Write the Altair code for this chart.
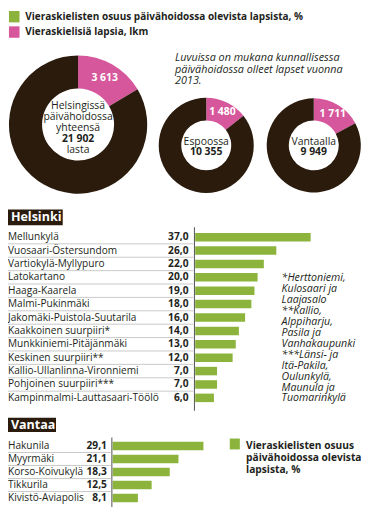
import altair as alt
import pandas as pd

# ---------------- data ----------------
legend_labels = ["Vieraskielisten osuus päivähoidossa olevista lapsista, %",
                 "Vieraskielisiä lapsia, lkm"]
note_lines = ["Luvuissa on mukana kunnallisessa",
              "päivähoidossa olleet lapset vuonna", "2013."]

city_names = ["Helsinki", "Espoo", "Vantaa"]
city_titles = [["Helsingissä", "päivähoidossa", "yhteensä"], ["Espoossa"], ["Vantaalla"]]
city_totals = [21902, 10355, 9949]
city_total_labels = ["21 902", "10 355", "9 949"]
city_extra = [["lasta"], [], []]
city_foreign = [3613, 1480, 1711]
city_foreign_labels = ["3 613", "1 480", "1 711"]

hki_title = "Helsinki"
hki_areas = ["Mellunkylä", "Vuosaari-Östersundom", "Vartiokylä-Myllypuro", "Latokartano",
             "Haaga-Kaarela", "Malmi-Pukinmäki", "Jakomäki-Puistola-Suutarila",
             "Kaakkoinen suurpiiri*", "Munkkiniemi-Pitäjänmäki", "Keskinen suurpiiri**",
             "Kallio-Ullanlinna-Vironniemi", "Pohjoinen suurpiiri***",
             "Kampinmalmi-Lauttasaari-Töölö"]
hki_values = [37.0, 26.0, 22.0, 20.0, 19.0, 18.0, 16.0, 14.0, 13.0, 12.0, 7.0, 7.0, 6.0]
hki_notes = ["*Herttoniemi,", "Kulosaari ja", "Laajasalo", "**Kallio,", "Alppiharju,",
             "Pasila ja", "Vanhakaupunki", "***Länsi- ja", "Itä-Pakila,", "Oulunkylä,",
             "Maunula ja", "Tuomarinkylä"]

van_title = "Vantaa"
van_areas = ["Hakunila", "Myyrmäki", "Korso-Koivukylä", "Tikkurila", "Kivistö-Aviapolis"]
van_values = [29.1, 21.1, 18.3, 12.5, 8.1]
van_legend = ["Vieraskielisten osuus", "päivähoidossa olevista", "lapsista, %"]

# ---------------- styles / layout ----------------
FONT = "Open Sans"
TXT = "#231f20"
GREEN = "#8cb43c"
PINK = "#d6579b"
DARK = "#2a1b0d"
SEP = "#bdbdbd"
AXC = "#555555"
W, H = 353, 501
SX, SY = 0.96, 0.992


def X(r):
    return (r - 2) * SX


def Y(r):
    return (r - 9) * SY


def fmt(v):
    return f"{v:.1f}".replace(".", ",")


layers = []


def txt(s, x, y, size=10.2, weight="normal", style="normal", align="left", color=TXT):
    layers.append(
        alt.Chart(pd.DataFrame({"t": [s]}))
        .mark_text(font=FONT, fontSize=size, fontWeight=weight, fontStyle=style,
                   align=align, baseline="middle", color=color)
        .encode(text="t:N", x=alt.value(x), y=alt.value(y))
    )


def mtxt(lines, x, y_first, step, size=10.2, weight="normal", style="normal",
         align="left", color=TXT):
    """Multi-line text block; y_first = reference centre of the first line."""
    layers.append(
        alt.Chart(pd.DataFrame({"t": ["\n".join(lines)]}))
        .mark_text(font=FONT, fontSize=size, fontWeight=weight, fontStyle=style,
                   align=align, baseline="alphabetic", color=color, lineBreak="\n",
                   lineHeight=step * SY)
        .encode(text="t:N", x=alt.value(x), y=alt.value(Y(y_first) + 0.34 * size))
    )


def box(x1, x2, y1, y2, color):
    layers.append(
        alt.Chart(pd.DataFrame({"a": [0]}))
        .mark_rect(color=color)
        .encode(x=alt.value(x1), x2=alt.value(x2), y=alt.value(y1), y2=alt.value(y2))
    )


def vline(x, y1, y2, color=AXC, w=1):
    layers.append(
        alt.Chart(pd.DataFrame({"a": [0]}))
        .mark_rule(color=color, strokeWidth=w)
        .encode(x=alt.value(x), y=alt.value(y1), y2=alt.value(y2))
    )


# ---------- top legend ----------
for i, (lab, col) in enumerate(zip(legend_labels, [GREEN, PINK])):
    cy = 18 + 15.5 * i
    box(X(3), X(14), Y(cy - 6), Y(cy + 5.5), col)
    txt(lab, X(20), Y(cy), size=10, weight="bold")

mtxt(note_lines, X(176), 59, 11.5, size=10.8, style="italic")

# ---------- donuts ----------
donut_geo = [  # cx, cy, r_out, r_in (reference pixels)
    (75, 126.5, 72, 37.5),
    (208.5, 147.5, 49.5, 26),
    (320.5, 147.5, 49, 26),
]
for i in range(3):
    cx, cy, ro, ri = donut_geo[i]
    df = pd.DataFrame({
        "part": ["vieras", "muut"],
        "val": [city_foreign[i], city_totals[i] - city_foreign[i]],
        "o": [0, 1],
        "lab": [city_foreign_labels[i], ""],
    })
    base = alt.Chart(df).encode(
        theta=alt.Theta("val:Q", stack="normalize"),
        order=alt.Order("o:Q"),
        x=alt.value(X(cx)), y=alt.value(Y(cy)),
    )
    layers.append(base.mark_arc(outerRadius=ro * SX, innerRadius=ri * SX).encode(
        color=alt.Color("part:N", scale=alt.Scale(domain=["vieras", "muut"], range=[PINK, DARK]),
                        legend=None)))
    layers.append(base.mark_text(radius=(ro + ri) / 2 * SX + 1, font=FONT, fontWeight="bold",
                                 fontSize=10.4, color="white", baseline="middle").encode(
        text="lab:N", detail="part:N"))
    if i == 0:
        y0, step = 107.5, 11.2
    else:
        y0, step = 143.5, 11
    titles = city_titles[i]
    mtxt(titles, X(cx), y0, step, size=10.4, align="center")
    k = len(titles)
    txt(city_total_labels[i], X(cx), Y(y0 + step * k), size=10.4, weight="bold", align="center")
    for j, t in enumerate(city_extra[i]):
        txt(t, X(cx), Y(y0 + step * (k + 1 + j)), size=10.4, align="center")


# ---------- bar blocks ----------
def block(title, areas, values, title_box, top, step, bar_x0, val_x, axis_y, sep_x2):
    tx1, tx2, ty1, ty2 = title_box
    box(X(tx1), X(tx2), Y(ty1), Y(ty2), DARK)
    txt(title, X(tx1 + 3), Y((ty1 + ty2) / 2), size=12.5, weight="bold", color="white")
    df = pd.DataFrame({"alue": areas, "arvo": values, "lab": [fmt(v) for v in values]})
    yscale = alt.Scale(domain=areas, range=[Y(top), Y(top + step * len(areas))],
                       paddingInner=0, paddingOuter=0)
    yenc = alt.Y("alue:N", sort=None, axis=None, scale=yscale)
    # separators between rows
    layers.append(
        alt.Chart(df.iloc[:-1]).mark_rule(color=SEP, strokeWidth=0.8).encode(
            y=alt.Y("alue:N", sort=None, axis=None, bandPosition=1, scale=yscale),
            x=alt.value(0), x2=alt.value(X(sep_x2)))
    )
    layers.append(
        alt.Chart(df).mark_bar(color=GREEN, size=8.5).encode(
            y=yenc,
            x=alt.X("arvo:Q", axis=None,
                    scale=alt.Scale(domain=[0, 40], range=[X(bar_x0), X(bar_x0) + 130 * SX])))
    )
    layers.append(
        alt.Chart(df).mark_text(font=FONT, fontSize=10.1, align="left", baseline="middle",
                                color=TXT).encode(y=yenc, text="alue:N", x=alt.value(0))
    )
    layers.append(
        alt.Chart(df).mark_text(font=FONT, fontSize=10.2, fontWeight="bold", align="right",
                                baseline="middle", color=TXT).encode(
            y=yenc, text="lab:N", x=alt.value(X(val_x)))
    )
    vline(X(bar_x0 - 0.8), Y(axis_y[0]), Y(axis_y[1]))


block(hki_title, hki_areas, hki_values, (2, 59, 212, 228), 233.25, 13.5, 197, 190,
      (230, 415), 195)
block(van_title, van_areas, van_values, (2, 52, 422, 436.5), 444, 13.1, 111, 105,
      (442, 512), 109)

mtxt(hki_notes, X(287), 281, 11, size=10.6, style="italic")

# right legend (Vantaa)
box(X(233), X(243.5), Y(443), Y(454), GREEN)
mtxt(van_legend, X(250), 450.5, 12, size=10.2, weight="bold")

chart = (
    alt.layer(*layers)
    .resolve_scale(x="independent", y="independent", theta="independent")
    .properties(width=W, height=H, autosize=alt.AutoSizeParams(type="none"), padding=0,
                background="white")
    .configure_view(stroke=None)
)

chart.save("out.html", embed_options={"renderer": "svg", "actions": False})
